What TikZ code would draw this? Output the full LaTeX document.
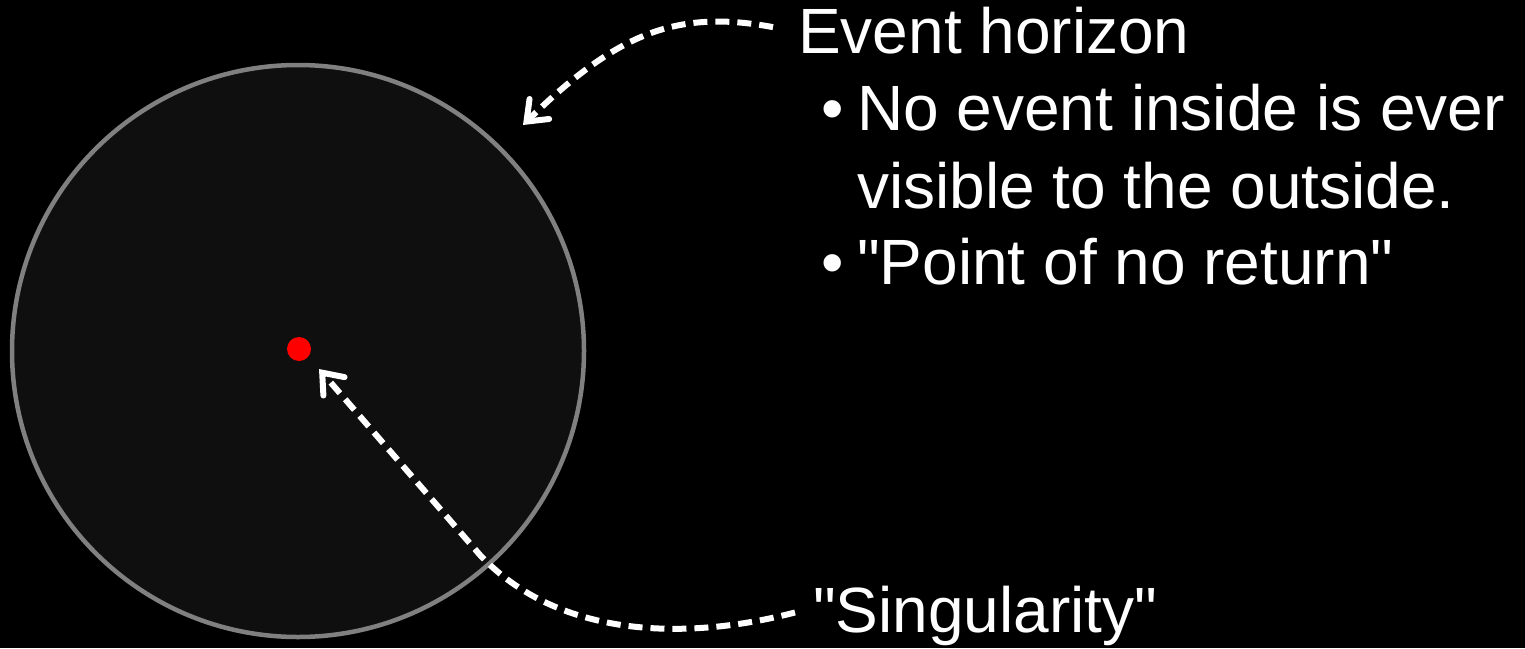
\documentclass[tikz,border=0pt]{standalone}
\usepackage{fontspec}
\setmainfont{Liberation Sans}
\usetikzlibrary{arrows.meta}

\definecolor{rim}{RGB}{128,128,128}
\definecolor{hole}{RGB}{15,15,15}

\begin{document}
\begin{tikzpicture}[x=1pt,y=-1pt,
        lbl/.style={text=white,inner sep=0pt,font=\fontsize{64}{76}\selectfont},
        note/.style={draw=white,line width=6pt,dash pattern=on 14pt off 8pt,
            -{Straight Barb[length=18pt,width=28pt,line cap=round]}}]

    \fill[black] (0,0) rectangle (1525,648);
    \useasboundingbox (0,0) rectangle (1525,648);

    % the black hole
    \draw[rim,fill=hole,line width=4.5pt] (298,351) circle (286);
    \node[circle,fill=red,minimum size=24pt,inner sep=0pt] (sing) at (299,349) {};

    % texts
    \node[lbl,anchor=base west] (horizon) at (798,53) {Event horizon};
    \node[lbl,anchor=base west] (item1) at (857,130) {No event inside is ever};
    \node[lbl,anchor=base west] (item1b) at (857,208) {visible to the outside.};
    \node[lbl,anchor=base west] (item2) at (857,284) {\textquotedbl Point of no return\textquotedbl};
    \node[lbl,anchor=base] (b1) at (833,130) {•};
    \node[lbl,anchor=base] (b2) at (833,284) {•};
    \node[lbl,anchor=base west] (singtxt) at (813,632) {\textquotedbl Singularity\textquotedbl};

    \coordinate (htip) at (523,125);
    \coordinate (stip) at (319,369);

    \draw[note] (horizon.west) ++(-25,-3) .. controls (680,10) and (620,30) .. (htip);
    \draw[note] (singtxt.west) ++(-18,-3) .. controls (690,640) and (560,640) .. (480,555) -- (stip);
\end{tikzpicture}
\end{document}
